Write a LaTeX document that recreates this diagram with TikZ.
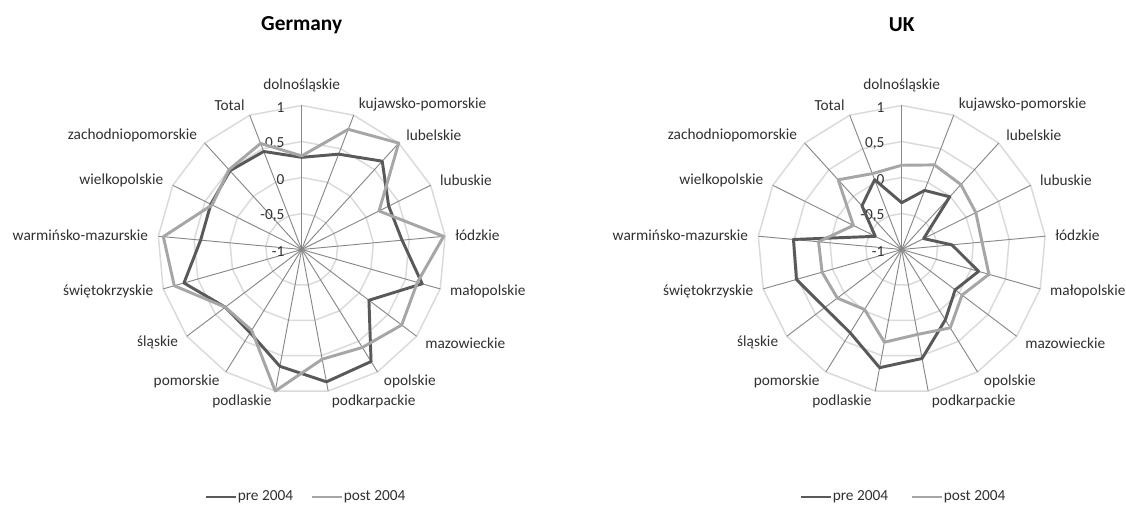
\documentclass[tikz,border=0pt]{standalone}
\usepackage{fontspec}
\setmainfont{Carlito}

\definecolor{pregray}{HTML}{595959}
\definecolor{postgray}{HTML}{A6A6A6}
\definecolor{axisgray}{HTML}{888888}
\definecolor{gridgray}{HTML}{DADADA}
\definecolor{labelgray}{HTML}{303030}

\tikzset{
  ring/.style={draw=gridgray, line width=1.1pt},
  spoke/.style={draw=axisgray, line width=0.7pt},
  pre line/.style={draw=pregray, line width=2.2pt, line join=round},
  post line/.style={draw=postgray, line width=2.2pt, line join=round},
  regionname/.style={font=\fontsize{11.5}{13.8}\selectfont, text=labelgray, inner sep=1.5pt},
  ticktext/.style={regionname, anchor=east},
  chart title/.style={font=\fontsize{16}{19}\selectfont\bfseries, text=black, inner sep=0pt}
}

\begin{document}
\begin{tikzpicture}[x=0.75pt, y=0.75pt]
\useasboundingbox (0,0) rectangle (1126,506);

\foreach \c/\cx/\t in {de/301.7/Germany, uk/901.7/UK}
  \node [chart title] (\c-title) at (\cx,481) {\t};

\foreach \c/\cx in {de/301.7, uk/901.7} {
  \begin{scope}[shift={(\cx,256.5)}]
    \coordinate (\c-center) at (0,0);
    \foreach \r in {36,72,108,144}
      \draw [ring] (90:\r) \foreach \k in {1,...,16} { -- ({90-\k*360/17}:\r) } -- cycle;
    \foreach \k in {1,...,17}
      \draw [spoke] (\c-center) -- ({90-(\k-1)*360/17}:144) coordinate (\c-axis-\k);
    \foreach \n/\a [count=\k] in {dolnośląskie/south, kujawsko-pomorskie/west, lubelskie/west,
        lubuskie/west, łódzkie/west, małopolskie/west, mazowieckie/west, opolskie/west,
        podkarpackie/west, podlaskie/east, pomorskie/east, śląskie/east, świętokrzyskie/east,
        warmińsko-mazurskie/east, wielkopolskie/east, zachodniopomorskie/east, Total/east}
      \node [regionname, anchor=\a] (\c-region-\k) at ({90-(\k-1)*360/17}:152 and 155) {\n};
    \foreach \r/\v in {0/-1, 36/{-0,5}, 72/0, 108/{0,5}, 144/1}
      \node [ticktext] (\c-tick-\r) at (-15,\r-2) {\v};
  \end{scope}
}

\begin{scope}[shift={(de-center)}]
  \foreach \v [count=\k] in {0.28,0.42,0.66,0.35,0.40,0.74,0.17,0.83,0.87,0.65,0.36,0.33,0.70,0.41,0.41,0.48,0.46}
    \coordinate (de-pre-\k) at ({90-(\k-1)*360/17}:{72*(\v+1)});
  \foreach \v [count=\k] in {0.30,0.79,1.00,0.20,0.98,0.67,0.74,0.60,0.55,1.00,0.32,0.33,0.84,0.93,0.39,0.50,0.58}
    \coordinate (de-post-\k) at ({90-(\k-1)*360/17}:{72*(\v+1)});
\end{scope}

\begin{scope}[shift={(uk-center)}]
  \foreach \v [count=\k] in {-0.35,-0.12,-0.01,-0.66,-0.30,0.11,-0.07,0.15,0.54,0.67,0.36,0.34,0.52,0.51,-0.59,-0.18,0.04}
    \coordinate (uk-pre-\k) at ({90-(\k-1)*360/17}:{72*(\v+1)});
  \foreach \v [count=\k] in {0.17,0.26,0.22,0.15,0.12,0.26,0.05,0.28,0.20,0.31,-0.02,0.12,0.15,0.16,-0.25,0.31,0.13}
    \coordinate (uk-post-\k) at ({90-(\k-1)*360/17}:{72*(\v+1)});
\end{scope}

\foreach \c in {de, uk} {
  \draw [pre line] (\c-pre-1) \foreach \k in {2,...,17} { -- (\c-pre-\k) } -- cycle;
  \draw [post line] (\c-post-1) \foreach \k in {2,...,17} { -- (\c-post-\k) } -- cycle;
}

\foreach \c/\xa/\xb in {de/235.5/341.5, uk/830.5/941.5} {
  \node [regionname, anchor=west] (\c-key-pre) at (\xa,9) {pre 2004};
  \node [regionname, anchor=west] (\c-key-post) at (\xb,9) {post 2004};
  \draw [pre line] (\c-key-pre.west) -- ++(-30,0);
  \draw [post line] (\c-key-post.west) -- ++(-30,0);
}

\end{tikzpicture}
\end{document}
